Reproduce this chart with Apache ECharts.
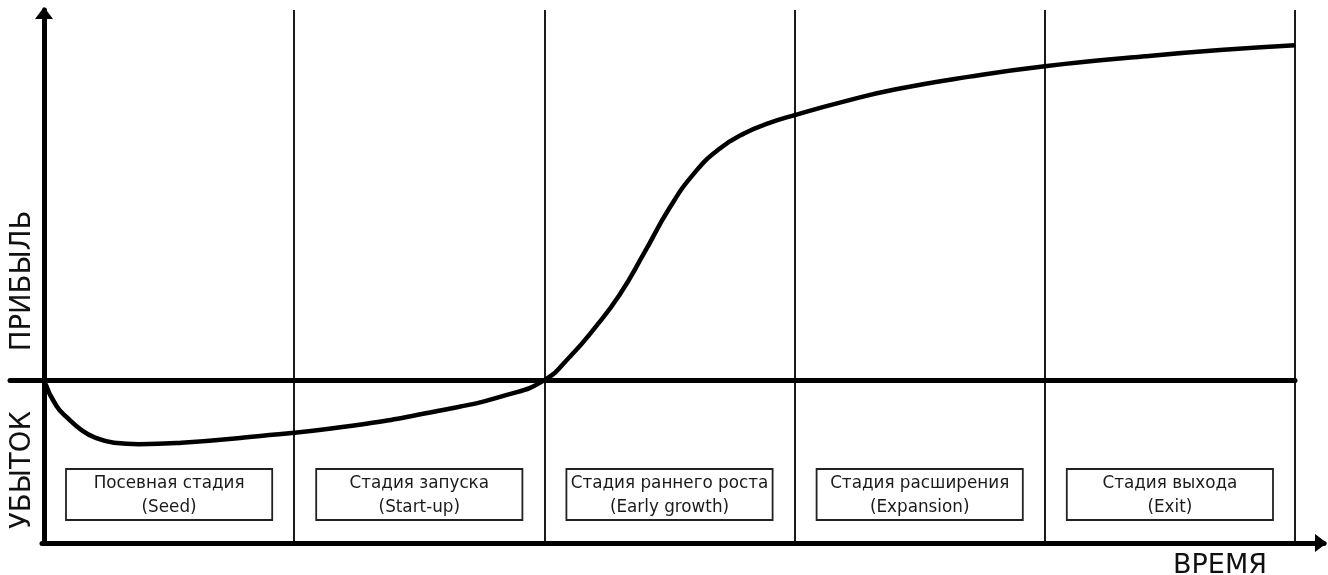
<!DOCTYPE html>
<html>
<head>
<meta charset="utf-8">
<script src="https://cdn.jsdelivr.net/npm/echarts@6/dist/echarts.min.js"></script>
<style>
html,body{margin:0;padding:0;background:#fff;}
#chart{width:1328px;height:575px;}
</style>
</head>
<body>
<div id="chart"></div>
<script>
// Stage names (two lines per box)
const stageNames = ['Посевная стадия', 'Стадия запуска', 'Стадия раннего роста', 'Стадия расширения', 'Стадия выхода'];
const stageEnglish = ['(Seed)', '(Start-up)', '(Early growth)', '(Expansion)', '(Exit)'];
const stageIndex = [0, 1, 2, 3, 4];
// Profit curve (x in stage units, y in relative profit units)
const curveX = [0, 0.05, 0.1, 0.15, 0.2, 0.28, 0.38, 0.55, 0.8, 1.2, 1.6, 1.85, 2.0, 2.1, 2.2, 2.3, 2.4, 2.5, 2.6, 2.7, 2.8, 2.9, 3.0, 3.2, 3.4, 3.7, 4.0, 4.4, 4.7, 5.0];
const curveY = [0, -7.0, -10.6, -13.5, -15.4, -16.9, -17.3, -16.9, -15.5, -12.6, -8.0, -4.0, 0, 6.2, 14.0, 23.0, 34.5, 46.5, 56.0, 62.5, 66.7, 69.5, 71.6, 75.3, 78.5, 82.0, 84.8, 87.5, 89.2, 90.5];
const yMin = -44, yMax = 100;
const axisTitles = { profit: 'ПРИБЫЛЬ', loss: 'УБЫТОК', time: 'ВРЕМЯ' };

const FONT = '"DejaVu Sans", Verdana, sans-serif';
const chart = echarts.init(document.getElementById('chart'), null, { renderer: 'canvas' });

const hidden = { show: false };
const option = {
  backgroundColor: '#fff',
  animation: false,
  grid: [
    { left: 44, right: 33, top: 10, bottom: 32 },
    { left: 10, right: 33, top: 10, bottom: 32 },
    { left: 42, right: 4, top: 10, bottom: 32 }
  ],
  xAxis: [
    {
      type: 'value', gridIndex: 0, min: 0, max: 5, interval: 1,
      axisLine: hidden, axisTick: hidden, axisLabel: hidden,
      splitLine: { show: true, showMinLine: false, showMaxLine: true, lineStyle: { color: '#1a1a1a', width: 2 } }
    },
    {
      type: 'value', gridIndex: 1, min: 0, max: 1,
      axisLine: { show: true, onZero: true, lineStyle: { color: '#000', width: 5 } },
      axisTick: hidden, axisLabel: hidden, splitLine: hidden
    },
    {
      type: 'value', gridIndex: 2, min: 0, max: 1, position: 'bottom',
      axisLine: { show: true, onZero: false, symbol: ['none', 'triangle'], symbolSize: [18, 12], symbolOffset: [0, -3], lineStyle: { color: '#000', width: 5 } },
      axisTick: hidden, axisLabel: hidden, splitLine: hidden
    }
  ],
  yAxis: [
    {
      type: 'value', gridIndex: 0, min: yMin, max: yMax,
      axisLine: { show: true, onZero: true, symbol: ['none', 'triangle'], symbolSize: [18, 12], symbolOffset: [0, -3], lineStyle: { color: '#000', width: 5 } },
      axisTick: hidden, axisLabel: hidden, splitLine: hidden
    },
    {
      type: 'value', gridIndex: 1, min: yMin, max: yMax,
      axisLine: hidden, axisTick: hidden, axisLabel: hidden, splitLine: hidden
    },
    {
      type: 'value', gridIndex: 2, min: 0, max: 1,
      axisLine: hidden, axisTick: hidden, axisLabel: hidden, splitLine: hidden
    }
  ],
  series: [
    {
      type: 'custom',
      xAxisIndex: 0, yAxisIndex: 0,
      data: stageIndex.map(i => [i]),
      z: 3,
      renderItem: function (params, api) {
        const i = api.value(0);
        const cs = params.coordSys;
        const x0 = api.coord([i, 0])[0];
        const x1 = api.coord([i + 1, 0])[0];
        const bottom = cs.y + cs.height;
        const bx = x0 + 22, bw = x1 - x0 - 44;
        const by = bottom - 74, bh = 51;
        return {
          type: 'group',
          children: [
            { type: 'rect', shape: { x: bx, y: by, width: bw, height: bh }, style: { fill: '#fff', stroke: '#222', lineWidth: 1.8 } },
            { type: 'text', style: { x: bx + bw / 2, y: by + bh / 2 + 1, text: stageNames[i] + '\n' + stageEnglish[i], align: 'center', verticalAlign: 'middle', textAlign: 'center', textVerticalAlign: 'middle', font: '16.8px ' + FONT, lineHeight: 24, fill: '#1a1a1a' } }
          ]
        };
      }
    },
    {
      type: 'line',
      xAxisIndex: 0, yAxisIndex: 0,
      data: curveX.map((x, k) => [x, curveY[k]]),
      smooth: 0.5,
      showSymbol: false,
      symbol: 'none',
      clip: false,
      z: 4,
      lineStyle: { color: '#000', width: 4.5 }
    }
  ],
  graphic: [
    { type: 'text', x: 23, y: 281, rotation: Math.PI / 2, style: { text: axisTitles.profit, font: '27.5px ' + FONT, fill: '#111', align: 'center', verticalAlign: 'middle', textAlign: 'center', textVerticalAlign: 'middle' } },
    { type: 'text', x: 23, y: 470, rotation: Math.PI / 2, style: { text: axisTitles.loss, font: '27.5px ' + FONT, fill: '#111', align: 'center', verticalAlign: 'middle', textAlign: 'center', textVerticalAlign: 'middle' } },
    { type: 'text', x: 1220, y: 566, style: { text: axisTitles.time, font: '27px ' + FONT, fill: '#111', align: 'center', verticalAlign: 'middle', textAlign: 'center', textVerticalAlign: 'middle' } }
  ]
};
chart.setOption(option);
</script>
</body>
</html>
